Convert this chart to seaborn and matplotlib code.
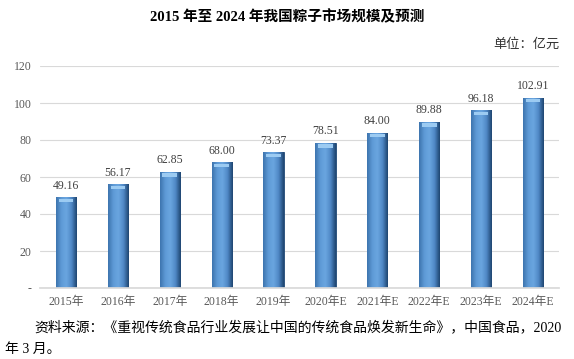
import numpy as np
import pandas as pd
import seaborn as sns
import matplotlib.pyplot as plt
from matplotlib.colors import LinearSegmentedColormap


years = ['2015年', '2016年', '2017年', '2018年', '2019年',
         '2020年E', '2021年E', '2022年E', '2023年E', '2024年E']
market_size = [49.16, 56.17, 62.85, 68.00, 73.37,
               78.51, 84.00, 89.88, 96.18, 102.91]
y_ticks = [0, 20, 40, 60, 80, 100, 120]
y_tick_labels = ['-', '20', '40', '60', '80', '100', '120']

TITLE = '2015 年至 2024 年我国粽子市场规模及预测'
UNIT = '单位：亿元'
SOURCE_1 = '资料来源：《重视传统食品行业发展让中国的传统食品焕发新生命》，中国食品，2020'
SOURCE_2 = '年 3 月。'

# horizontal shading across each bar: left edge -> centre -> right edge
BAR_CMAP = LinearSegmentedColormap.from_list(
    'bar', ['#3D74AE', '#5E9AD6', '#6AA6E0', '#4F88C6', '#1E4570'])


def main():
    sns.set_theme(style='white')
    plt.rcParams['font.family'] = ['Liberation Serif', 'Noto Sans CJK SC']

    df = pd.DataFrame({'year': years, 'size': market_size})

    fig = plt.figure(figsize=(5.74, 3.59), dpi=100)
    ax = fig.add_axes([40 / 574, 1 - 288 / 359, 519 / 574, 222 / 359])

    sns.barplot(data=df, x='year', y='size', ax=ax, color='#4A8ACB',
                width=0.39, edgecolor='#1E4570', linewidth=0.6,
                saturation=1)

    ax.set_ylim(0, 120)
    ax.set_xlim(-0.5, len(years) - 0.5)

    grad = np.linspace(0, 1, 64).reshape(1, -1)
    for patch in list(ax.patches):
        x0 = patch.get_x()
        w = patch.get_width()
        h = patch.get_height()
        im = ax.imshow(grad, cmap=BAR_CMAP, aspect='auto',
                       extent=[x0, x0 + w, 0, h], zorder=2.5,
                       interpolation='bicubic')
        im.set_clip_path(patch)
        # lighter bevel at the top of each bar
        ax.bar(x0 + w / 2, 1.8, bottom=h - 2.6, width=w * 0.72,
               color='#9CCBF2', linewidth=0, zorder=3)

    ax.set_xlim(-0.5, len(years) - 0.5)
    ax.set_ylim(0, 120)

    for i, v in enumerate(market_size):
        ax.text(i, v + 3, '{:.2f}'.format(v), ha='center', va='bottom',
                fontsize=8.5, color='#404040')

    ax.set_yticks(y_ticks)
    ax.set_yticklabels(y_tick_labels)
    ax.yaxis.grid(True, color='#D9D9D9', linewidth=0.8)
    ax.set_axisbelow(True)
    for side in ['top', 'right', 'left']:
        ax.spines[side].set_visible(False)
    ax.spines['bottom'].set_color('#D9D9D9')
    ax.tick_params(axis='both', length=0, labelsize=8.5, colors='#595959',
                   pad=6)
    ax.set_xlabel('')
    ax.set_ylabel('')

    fig.text(287 / 574, 1 - 17 / 359, TITLE, ha='center', va='center',
             fontsize=10.5, fontweight='bold', color='black')
    fig.text(560 / 574, 1 - 44 / 359, UNIT, ha='right', va='center',
             fontsize=9.5, color='#333333')
    fig.text(34 / 574, 1 - 327 / 359, SOURCE_1, ha='left', va='center',
             fontsize=10, color='black')
    fig.text(5 / 574, 1 - 349 / 359, SOURCE_2, ha='left', va='center',
             fontsize=10, color='black')

    fig.savefig('out.png', dpi=100)
    plt.close(fig)


if __name__ == '__main__':
    main()
